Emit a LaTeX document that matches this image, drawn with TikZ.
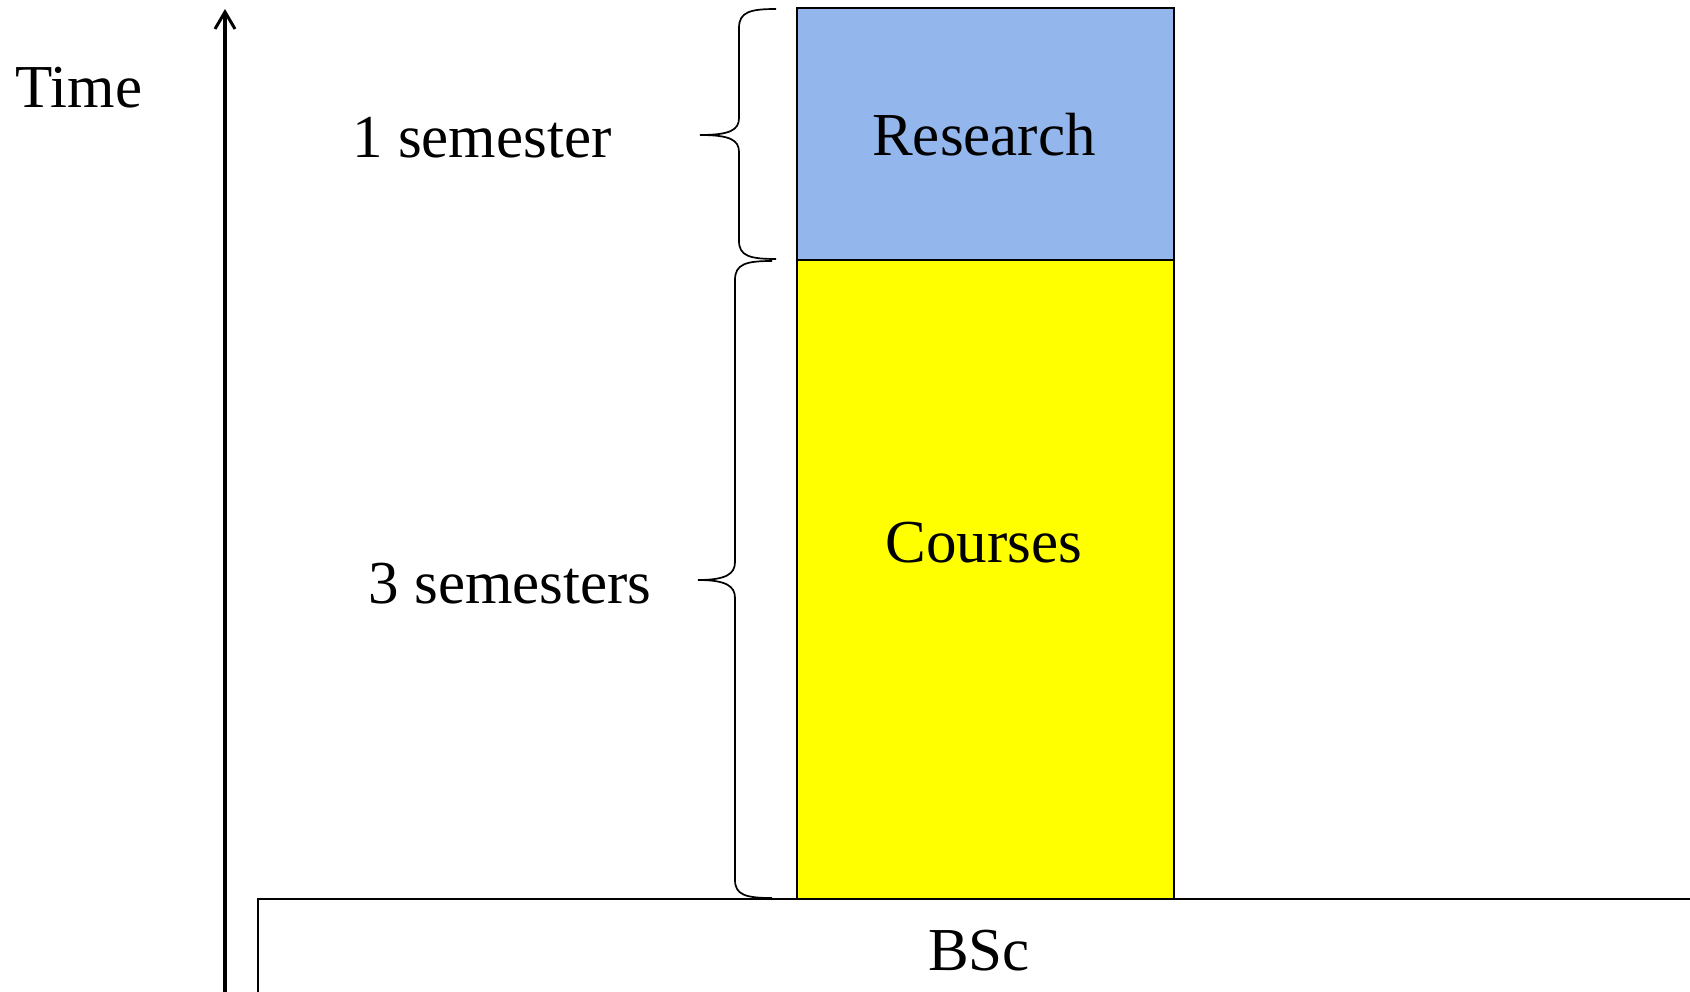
\documentclass[tikz,border=0pt]{standalone}
\usepackage{fontspec}
\setmainfont{Liberation Serif}
\usetikzlibrary{arrows.meta}
\definecolor{resblue}{RGB}{147,183,236}
\definecolor{crsyellow}{RGB}{255,255,0}
\begin{document}
\begin{tikzpicture}[x=1pt,y=-1pt,
  lbl/.style={font=\fontsize{61}{70}\selectfont, anchor=base, inner sep=0pt},
  blk/.style={draw=black, line width=2pt, inner sep=0pt, anchor=north west},
  brc/.style={draw=black, line width=1.7pt}]
\useasboundingbox (0,0) rectangle (1690,992);
\clip (0,0) rectangle (1690,992);
\fill[white] (0,0) rectangle (1690,992);

% BSc box (runs off the page to the right and bottom)
\node (bsc) [blk, minimum width=1500pt, minimum height=200pt] at (256.5,898) {};
\node (bsctxt) [lbl] at (979,970) {BSc};

% Courses and Research blocks
\node (courses) [blk, fill=crsyellow, minimum width=377pt, minimum height=639pt] at (796,259) {};
\node (research) [blk, fill=resblue, minimum width=377pt, minimum height=251.5pt] at (796,7.5) {};
\node (restxt) [lbl] at (984,156) {Research};
\node (crstxt) [lbl] at (984,562) {Courses};

% Time axis
\coordinate (abot) at (225,1000);
\coordinate (atop) at (225,9);
\draw[line width=3.6pt, -{Straight Barb[length=17pt,width=20pt,line width=3pt]}] (abot) -- (atop);
\node (time) [lbl] at (79,108) {Time};

% Braces
\draw[brc] (776,9) .. controls (750,9) and (739,12) .. (739,28)
  -- (739,118) .. controls (739,130) and (730,135) .. (700,135)
  .. controls (730,135) and (739,140) .. (739,152)
  -- (739,241) .. controls (739,256) and (750,259) .. (776,259);
\draw[brc] (772,261) .. controls (746,261) and (735,264) .. (735,280)
  -- (735,562) .. controls (735,574) and (726,580) .. (698,580)
  .. controls (726,580) and (735,586) .. (735,598)
  -- (735,880) .. controls (735,895) and (746,898) .. (772,898);
\node (sem1) [lbl] at (482,158) {1 semester};
\node (sem3) [lbl] at (510,603) {3 semesters};
\end{tikzpicture}
\end{document}
